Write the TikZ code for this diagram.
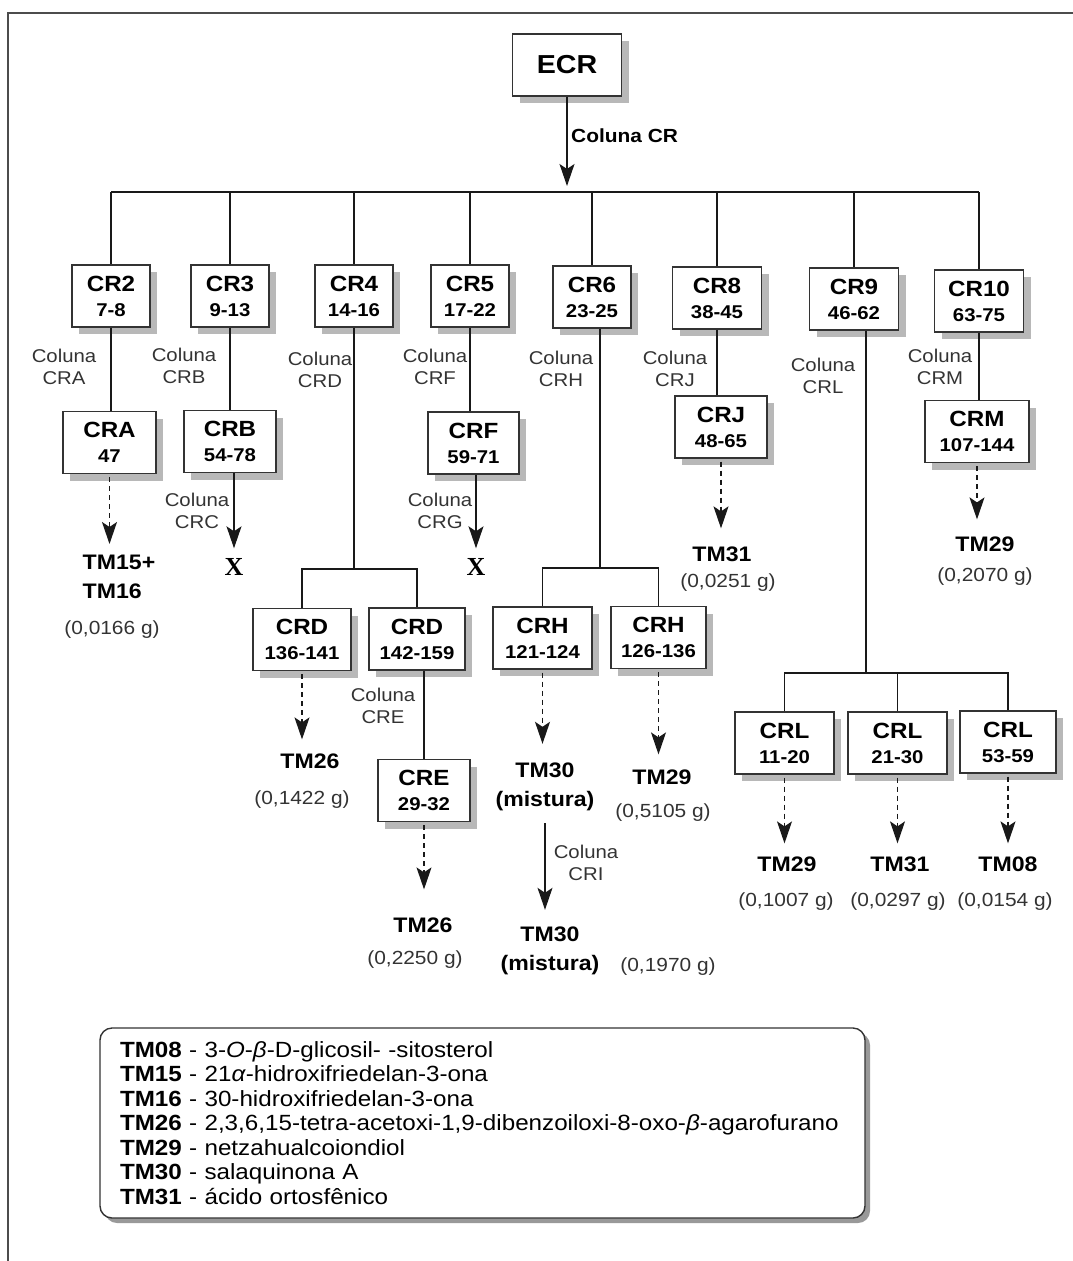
\documentclass[tikz,border=0pt]{standalone}
\usepackage{fontspec}
\setmainfont{Liberation Sans}[FakeStretch=1.1]
\newfontfamily\xfont{Liberation Serif}
\usetikzlibrary{arrows.meta,shadows}

\newcommand{\nr}[1]{{\fontsize{18.5}{25}\selectfont #1}}

\begin{document}
\begin{tikzpicture}[x=1pt, y=-1pt,
  every node/.style={inner sep=0pt},
  caixa/.style={draw=black!80, line width=1.4pt, fill=white, align=center,
    minimum width=#1, minimum height=62pt,
    font=\fontsize{22}{25}\selectfont\bfseries,
    general shadow={fill=black!28, shadow xshift=7pt, shadow yshift=-7pt}},
  caixa/.default=78pt,
  coluna/.style={align=center, text=black!80, font=\fontsize{18.5}{22.5}\selectfont},
  tm/.style={align=center, font=\fontsize{21}{29}\selectfont\bfseries},
  peso/.style={text=black!80, font=\fontsize{19}{22}\selectfont},
  xis/.style={font=\xfont\fontsize{26}{26}\selectfont\bfseries},
  liga/.style={line width=1.2pt, draw=black!90},
  seta/.style={liga, shorten >=14pt, -{Stealth[length=22pt, width=15pt, inset=5pt]}},
  tracejada/.style={seta, shorten <=3pt, dash pattern=on 5pt off 4pt},
  legbox/.style={draw=black!80, line width=1.4pt, fill=white, rounded corners=12pt,
    general shadow={fill=black!40, shadow xshift=5pt, shadow yshift=-5pt}}]
  \useasboundingbox (0,0) rectangle (1073,1261);
  \draw[line width=1.5pt, black!70] (8,1261) -- (8,13) -- (1073,13);

  \node[caixa=109pt, font=\fontsize{26}{26}\selectfont\bfseries] (ecr) at (567,65) {ECR};
  \coordinate (barra) at (567,192);
  \draw[seta, shorten >=6pt] (ecr.south) -- (ecr.south |- barra);
  \node[anchor=west, font=\fontsize{19}{19}\selectfont\bfseries] (colcr) at (571,136) {Coluna CR};

  \node[caixa] (cr2) at (111,296) {CR2\\\nr{7-8}};
  \node[caixa] (cr3) at (230,296) {CR3\\\nr{9-13}};
  \node[caixa] (cr4) at (354,296) {CR4\\\nr{14-16}};
  \node[caixa] (cr5) at (470,296) {CR5\\\nr{17-22}};
  \node[caixa] (cr6) at (592,297) {CR6\\\nr{23-25}};
  \node[caixa=89pt] (cr8) at (717,298) {CR8\\\nr{38-45}};
  \node[caixa=89pt] (cr9) at (854,299) {CR9\\\nr{46-62}};
  \node[caixa=89pt] (cr10) at (979,301) {CR10\\\nr{63-75}};
  \draw[liga] (cr2.north |- barra) -- (cr10.north |- barra);
  \foreach \c in {cr2,cr3,cr4,cr5,cr6,cr8,cr9,cr10}
    \draw[liga] (\c.north |- barra) -- (\c.north);

  \node[coluna] (colA) at (64,367) {Coluna\\CRA};
  \node[coluna] (colB) at (184,366) {Coluna\\CRB};
  \node[coluna] (colD) at (320,370) {Coluna\\CRD};
  \node[coluna] (colF) at (435,367) {Coluna\\CRF};
  \node[coluna] (colH) at (561,369) {Coluna\\CRH};
  \node[coluna] (colJ) at (675,369) {Coluna\\CRJ};
  \node[coluna] (colL) at (823,376) {Coluna\\CRL};
  \node[coluna] (colM) at (940,367) {Coluna\\CRM};

  \node[caixa=93pt] (cra) at (109.5,442.5) {CRA\\\nr{47}};
  \node[caixa=92pt] (crb) at (230,441.5) {CRB\\\nr{54-78}};
  \node[caixa=91pt] (crf) at (473.5,443) {CRF\\\nr{59-71}};
  \node[caixa=92pt] (crj) at (721,427) {CRJ\\\nr{48-65}};
  \node[caixa=104pt] (crm) at (977,431.5) {CRM\\\nr{107-144}};
  \foreach \a/\b in {cr2/cra,cr3/crb,cr5/crf,cr8/crj,cr10/crm}
    \draw[liga] (\a.south) -- (\a.south |- \b.north);

  % CRA, CRB, CRF
  \node[tm, align=left] (tm1516) at (119,577) {TM15+\\TM16};
  \node[peso] (w0166) at (112,630) {(0,0166 g)};
  \draw[tracejada, shorten >=11pt] (cra.south) -- (cra.south |- tm1516.north);
  \node[coluna] (colC) at (197,511) {Coluna\\CRC};
  \node[xis] (xb) at (234,567) {X};
  \draw[seta, shorten >=10pt] (crb.south -| xb) -- (xb.north);
  \node[coluna] (colG) at (440,511) {Coluna\\CRG};
  \node[xis] (xf) at (476,567) {X};
  \draw[seta, shorten >=10pt] (crf.south -| xf) -- (xf.north);

  % CR4
  \coordinate (splitD) at (356,569);
  \node[caixa=98pt] (crdA) at (302,639.5) {CRD\\\nr{136-141}};
  \node[caixa=96pt] (crdB) at (417,639) {CRD\\\nr{142-159}};
  \draw[liga] (cr4.south) -- (cr4.south |- splitD);
  \draw[liga] (crdA.north) |- (splitD) -| (crdB.north);
  \node[tm] (tm26a) at (310,761) {TM26};
  \node[peso] (w1422) at (302,800) {(0,1422 g)};
  \draw[tracejada] (crdA.south) -- (crdA.south |- tm26a.north);
  \node[coluna] (colE) at (383,706) {Coluna\\CRE};
  \node[caixa=92pt] (cre) at (424,790.5) {CRE\\\nr{29-32}};
  \draw[liga] (crdB.south -| cre) -- (cre.north);
  \node[tm] (tm26b) at (423,925) {TM26};
  \node[peso] (w2250) at (415,960) {(0,2250 g)};
  \draw[tracejada, shorten >=28pt] (cre.south) -- (cre.south |- tm26b.north);

  % CR6
  \coordinate (splitH) at (600,568);
  \node[caixa=99pt] (crhA) at (542.5,638) {CRH\\\nr{121-124}};
  \node[caixa=95pt] (crhB) at (658.5,637.5) {CRH\\\nr{126-136}};
  \draw[liga] (cr6.south -| splitH) -- (splitH);
  \draw[liga] (crhA.north) |- (splitH) -| (crhB.north);
  \node[tm] (tm30a) at (545,787) {TM30\\(mistura)};
  \draw[tracejada, shorten >=19pt] (crhA.south) -- (crhA.south |- tm30a.north);
  \node[tm] (tm30b) at (550,951) {TM30\\(mistura)};
  \draw[seta, shorten <=12pt, shorten >=17pt] (tm30a.south) -- (tm30a.south |- tm30b.north);
  \node[coluna] (colI) at (586,863) {Coluna\\CRI};
  \node[peso] (w1970) at (668,967) {(0,1970 g)};
  \node[tm] (tm29a) at (662,777) {TM29};
  \node[peso] (w5105) at (663,813) {(0,5105 g)};
  \draw[tracejada, shorten >=15pt] (crhB.south) -- (crhB.south |- tm29a.north);

  % CR8, CR10
  \node[tm] (tm31a) at (722,554) {TM31};
  \node[peso] (w0251) at (728,583) {(0,0251 g)};
  \draw[tracejada, shorten >=18pt] (crj.south) -- (crj.south |- tm31a.north);
  \node[tm] (tm29b) at (985,544) {TM29};
  \node[peso] (w2070) at (985,577) {(0,2070 g)};
  \draw[tracejada, shorten >=17pt] (crm.south) -- (crm.south |- tm29b.north);

  % CR9
  \coordinate (splitL) at (866,673);
  \node[caixa=99pt] (crlA) at (784.5,743) {CRL\\\nr{11-20}};
  \node[caixa=99pt] (crlB) at (897.5,743) {CRL\\\nr{21-30}};
  \node[caixa=96pt] (crlC) at (1008,742) {CRL\\\nr{53-59}};
  \draw[liga] (cr9.south -| splitL) -- (splitL);
  \draw[liga] (crlA.north) |- (splitL) -| (crlC.north);
  \draw[liga] (crlB.north) -- (crlB.north |- splitL);
  \node[tm] (tm29c) at (787,864) {TM29};
  \node[tm] (tm31b) at (900,864) {TM31};
  \node[tm] (tm08) at (1008,864) {TM08};
  \node[peso] (w1007) at (786,902) {(0,1007 g)};
  \node[peso] (w0297) at (898,902) {(0,0297 g)};
  \node[peso] (w0154) at (1005,902) {(0,0154 g)};
  \foreach \a/\b in {crlA/tm29c,crlB/tm31b,crlC/tm08}
    \draw[tracejada, shorten >=13pt] (\a.south) -- (\a.south |- \b.north);

  \node[legbox, minimum width=765pt, minimum height=190pt, inner xsep=20pt,
    text width=725pt, align=left, font=\fontsize{22}{24.5}\selectfont] (legenda) at (482.5,1123)
    {\textbf{TM08} - 3-\textit{O}-\textit{β}-D-glicosil- -sitosterol\\
     \textbf{TM15} - 21\textit{α}-hidroxifriedelan-3-ona\\
     \textbf{TM16} - 30-hidroxifriedelan-3-ona\\
     \textbf{TM26} - 2,3,6,15-tetra-acetoxi-1,9-dibenzoiloxi-8-oxo-\textit{β}-agarofurano\\
     \textbf{TM29} - netzahualcoiondiol\\
     \textbf{TM30} - salaquinona A\\
     \textbf{TM31} - ácido ortosfênico};
\end{tikzpicture}
\end{document}
